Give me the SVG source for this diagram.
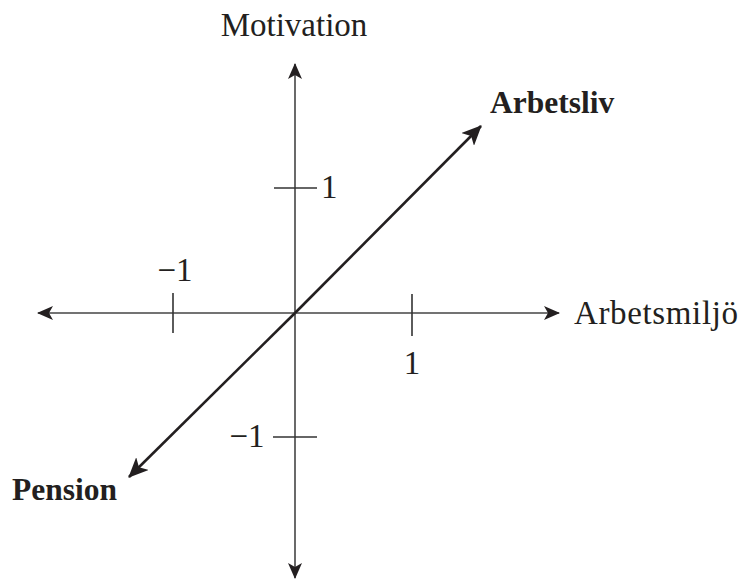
<svg xmlns="http://www.w3.org/2000/svg" width="745" height="583" viewBox="0 0 745 583">
<style>
text{font-family:"Liberation Serif","Times New Roman",serif;font-size:33px;fill:#231f20}
.b{font-weight:bold;font-size:31.5px}
.ax{stroke:#444;stroke-width:1.6;fill:none}
.tk{stroke:#333;stroke-width:1.6}
.dg{stroke:#231f20;stroke-width:2.6;fill:none}
</style>
<defs>
<marker id="ah" viewBox="0 0 16 14" refX="15" refY="7" markerWidth="16" markerHeight="14" markerUnits="userSpaceOnUse" orient="auto">
<path d="M0,0 L16,7 L0,14 L4,7 Z" fill="#231f20"/>
</marker>
<marker id="ahd" viewBox="0 0 20 18" refX="19" refY="9" markerWidth="20" markerHeight="18" markerUnits="userSpaceOnUse" orient="auto">
<path d="M0,0 L20,9 L0,18 L5,9 Z" fill="#231f20"/>
</marker>
</defs>
<g id="connectors">
<line class="ax" x1="295" y1="313" x2="295" y2="64" marker-end="url(#ah)"/>
<line class="ax" x1="295" y1="313" x2="295" y2="578" marker-end="url(#ah)"/>
<line class="ax" x1="295" y1="313" x2="38" y2="313" marker-end="url(#ah)"/>
<line class="ax" x1="295" y1="313" x2="559" y2="313" marker-end="url(#ah)"/>
<line class="dg" x1="295" y1="313" x2="481" y2="126" marker-end="url(#ahd)"/>
<line class="dg" x1="295" y1="313" x2="129" y2="477" marker-end="url(#ahd)"/>
</g>
<g id="ticks">
<line class="tk" x1="173" y1="293" x2="173" y2="333"/>
<line class="tk" x1="412" y1="294" x2="412" y2="336"/>
<line class="tk" x1="274" y1="188" x2="317" y2="188"/>
<line class="tk" x1="273" y1="437" x2="317" y2="437"/>
</g>
<g id="motivation"><text x="294" y="36" text-anchor="middle">Motivation</text></g>
<g id="arbetsmiljo"><text x="574" y="324" textLength="164" lengthAdjust="spacing">Arbetsmiljö</text></g>
<g id="arbetsliv"><text class="b" x="490" y="113">Arbetsliv</text></g>
<g id="pension"><text class="b" x="12" y="500">Pension</text></g>
<g id="labels">
<text x="321" y="198">1</text>
<text x="175" y="281" text-anchor="middle">−1</text>
<text x="412" y="374" text-anchor="middle">1</text>
<text x="247" y="447" text-anchor="middle">−1</text>
</g>
</svg>
